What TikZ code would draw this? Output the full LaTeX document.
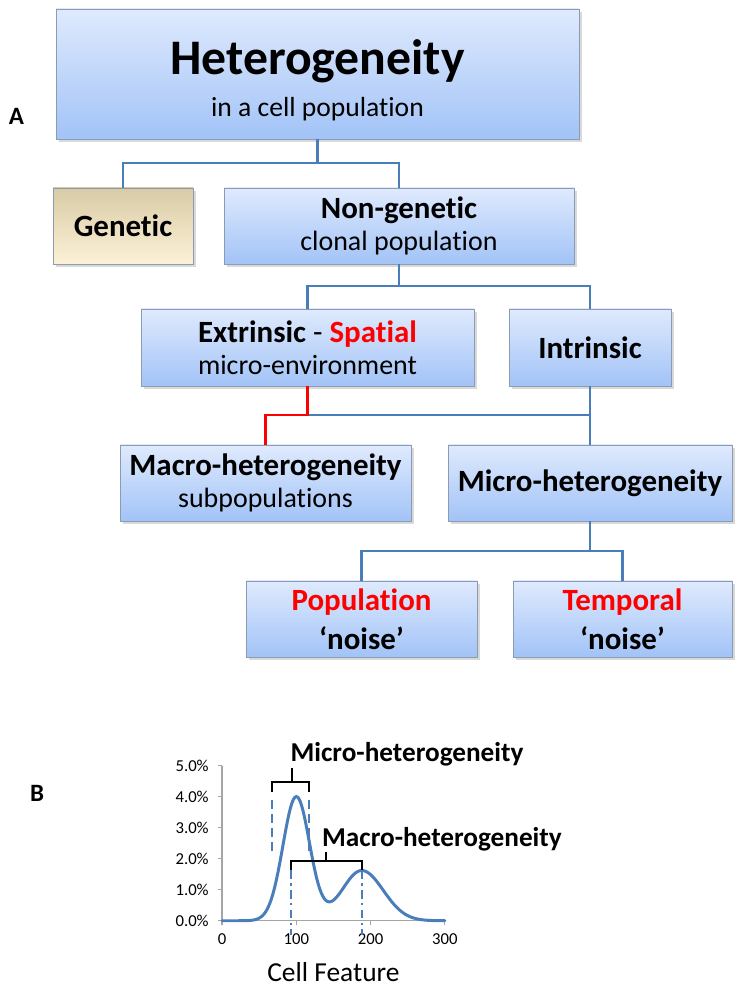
\documentclass[tikz,border=0pt]{standalone}
\usepackage{fontspec}
\setmainfont{Carlito}[Ligatures={TeX,NoCommon}]
\usetikzlibrary{shadows}

\definecolor{boxtop}{RGB}{223,234,253}
\definecolor{boxbot}{RGB}{162,195,247}
\definecolor{boxline}{RGB}{140,155,180}
\definecolor{gentop}{RGB}{216,203,166}
\definecolor{genbot}{RGB}{252,241,214}
\definecolor{linkblue}{RGB}{74,126,187}
\definecolor{axisgray}{RGB}{165,165,165}

\begin{document}
\begin{tikzpicture}

% --- Styles ---
\tikzset{
    box/.style={draw=boxline, line width=0.5pt, top color=boxtop, bottom color=boxbot,
        drop shadow={shadow xshift=1.6pt, shadow yshift=-1.6pt, opacity=0.3},
        align=center, inner sep=0pt, font=\fontsize{17.6}{18.1}\selectfont\bfseries},
    genbox/.style={box, top color=gentop, bottom color=genbot},
    link/.style={draw=linkblue, line width=1.2pt},
    redlink/.style={draw=red, line width=1.2pt},
    panel/.style={font=\fontsize{14.2}{16}\selectfont\bfseries},
    peaklabel/.style={font=\fontsize{15.5}{17}\selectfont\bfseries, anchor=base, inner sep=0pt},
    ticklab/.style={font=\fontsize{9.5}{11}\selectfont, inner sep=0pt},
    axis/.style={draw=axisgray, line width=0.6pt},
    curve/.style={draw=linkblue, line width=1.7pt, line cap=round},
    brace/.style={draw=black, line width=1.1pt},
    micromark/.style={draw=linkblue, line width=1.1pt, dash pattern=on 5pt off 3pt},
    macromark/.style={draw=linkblue, line width=1.1pt, dash pattern=on 5pt off 2.5pt on 1.2pt off 2.5pt}
}

\useasboundingbox (0,0) rectangle (14.9,19.8);

% --- Panel A: boxes ---
\node[panel] (labA) at (0.33,17.48) {A};

\node[box, minimum width=10.46cm, minimum height=2.6cm] (hetero) at (6.35,18.32)
    {\rule{0pt}{27pt}{\fontsize{28.3}{30}\selectfont Heterogeneity}\\[6pt]{\mdseries\fontsize{15.7}{18}\selectfont in a cell population}};

\node[genbox, minimum width=2.8cm, minimum height=1.52cm] (genetic) at (2.46,15.28) {Genetic};
\node[box, minimum width=7.0cm, minimum height=1.52cm] (nongen) at (7.98,15.28)
    {Non-genetic\\{\mdseries\fontsize{15.9}{18.1}\selectfont clonal population}};

\node[box, minimum width=6.66cm, minimum height=1.54cm] (extr) at (6.15,12.85)
    {Extrinsic {\mdseries -} {\color{red}Spatial}\\{\mdseries\fontsize{15.9}{18.1}\selectfont micro-environment}};
\node[box, minimum width=3.24cm, minimum height=1.54cm] (intr) at (11.8,12.85) {Intrinsic};

\node[box, minimum width=5.82cm, minimum height=1.52cm] (macro) at (5.31,10.14)
    {Macro-heterogeneity\\{\mdseries\fontsize{15.9}{18.1}\selectfont subpopulations}};
\node[box, minimum width=5.68cm, minimum height=1.52cm] (micro) at (11.8,10.14) {Micro-heterogeneity};

\node[box, minimum width=4.62cm, minimum height=1.52cm] (popn) at (7.23,7.42)
    {{\color{red}Population}\\[4pt]‘noise’};
\node[box, minimum width=4.38cm, minimum height=1.52cm] (temp) at (12.45,7.42)
    {{\color{red}Temporal}\\[4pt]‘noise’};

% --- Panel A: connectors ---
\draw[link] (hetero.south) -- ++(0,-0.48) coordinate (j1);
\draw[link] (genetic.north) |- (j1) -| (nongen.north);

\draw[link] (nongen.south) -- ++(0,-0.44) coordinate (j2);
\draw[link] (extr.north) |- (j2) -| (intr.north);

\path (extr.south) ++(0,-0.58) coordinate (j3);
\draw[link] (j3) -- (intr.south |- j3);
\draw[link] (intr.south) -- (micro.north);
\draw[redlink] (extr.south) -- (j3) -| (macro.north);

\draw[link] (micro.south) -- ++(0,-0.6) coordinate (j4);
\draw[link] (popn.north) |- (j4) -| (temp.north);

% --- Panel B: distribution ---
\node[panel] (labB) at (0.74,3.94) {B};

\begin{scope}[shift={(4.44,1.385)}, x=0.01486cm, y=0.62cm]
    % axes and ticks
    \draw[axis] (0,5) -- (0,0) -- (300,0);
    \foreach \v in {0,...,5} {
        \draw[axis] (0,\v) -- ++(-0.08cm,0pt);
        \node[ticklab, anchor=east] (ytick\v) at ([xshift=-0.26cm]0,\v) {\v.0\%};
    }
    \foreach \u in {0,100,200,300} {
        \draw[axis] (\u,0) -- ++(0pt,-0.08cm);
        \node[ticklab, anchor=north] (xtick\u) at ([yshift=-0.25cm]\u,0) {\u};
    }
    \node[font=\fontsize{15.6}{18}\selectfont, anchor=base] (xlabel) at (150,-1.97) {Cell Feature};

    % two-peak curve (second peak steeper on its left flank)
    \draw[curve] plot[domain=0:300, samples=151, smooth]
        (\x, {4*exp(-0.5*((\x-100)/18)^2)
              + 1.62*exp(-0.5*((\x-188)/ifthenelse(\x<188,26.5,29))^2)});

    % micro spread
    \draw[micromark] (67.7,3.9) -- (67.7,2.26);
    \draw[micromark] (117.5,3.9) -- (117.5,2.26);
    \draw[brace] (67.7,4.16) -- (67.7,4.49) -- (117.5,4.49) -- (117.5,4.16);
    \draw[brace] (93.8,4.49) -- (93.8,4.93);
    \node[peaklabel] (microlab) at (249,5.15) {Micro-heterogeneity};

    % macro spread
    \draw[macromark] (92.9,1.63) -- (92.9,-0.45);
    \draw[macromark] (187.9,1.63) -- (187.9,-0.45);
    \draw[brace] (92.9,1.64) -- (92.9,1.94) -- (187.9,1.94) -- (187.9,1.64);
    \draw[brace] (140,1.94) -- (140,2.23);
    \node[peaklabel] (macrolab) at (296,2.4) {Macro-heterogeneity};
\end{scope}

\end{tikzpicture}
\end{document}
